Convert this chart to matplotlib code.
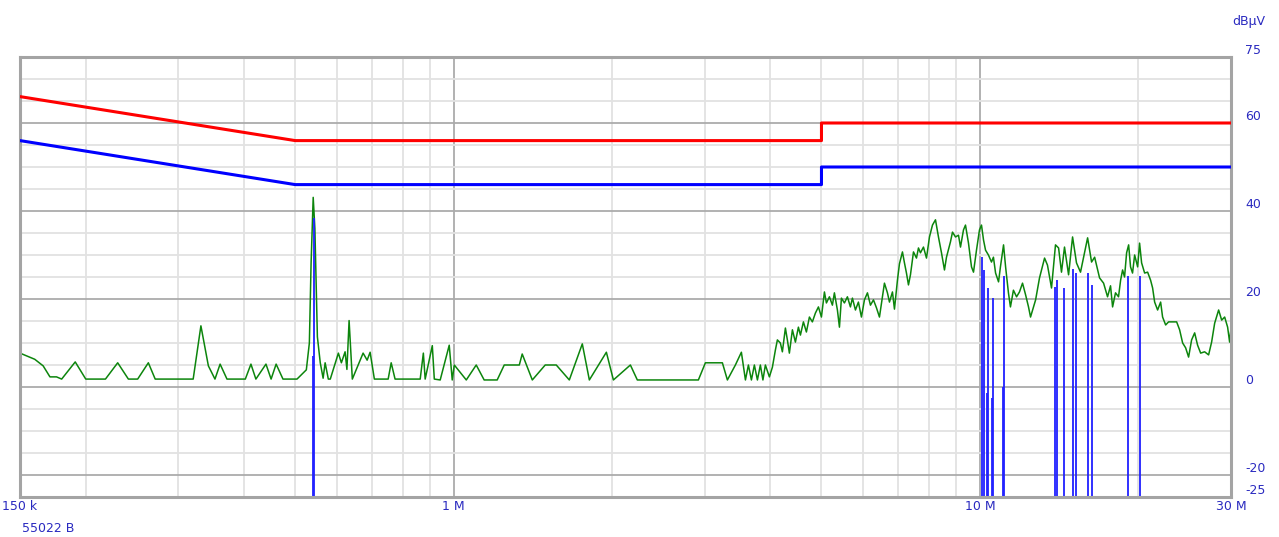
import matplotlib
matplotlib.use('Agg')
import matplotlib.pyplot as plt

# limit lines (class B): quasi-peak and average
lim_freq = [0.15, 0.5, 5.0, 5.0, 30.0]
qp_limit = [66, 56, 56, 60, 60]
av_limit = [56, 46, 46, 50, 50]

pk_freq = [0.150, 0.160, 0.166, 0.171, 0.176, 0.180, 0.191, 0.200, 0.218, 0.230,
           0.241, 0.251, 0.263, 0.271, 0.320, 0.331, 0.342, 0.352, 0.360, 0.371,
           0.402, 0.412, 0.421, 0.440, 0.450, 0.460, 0.474, 0.504, 0.525, 0.532,
           0.536, 0.541, 0.545, 0.548, 0.551, 0.558, 0.565, 0.570, 0.578, 0.583,
           0.604, 0.612, 0.622, 0.627, 0.633, 0.642, 0.673, 0.685, 0.694, 0.707,
           0.751, 0.761, 0.774, 0.864, 0.876, 0.883, 0.911, 0.919, 0.943, 0.981,
           0.994, 1.003, 1.057, 1.104, 1.143, 1.210, 1.248, 1.333, 1.350, 1.411,
           1.493, 1.567, 1.659, 1.756, 1.811, 1.951, 2.012, 2.167, 2.234, 2.450,
           2.918, 3.009, 3.241, 3.313, 3.431, 3.522, 3.585, 3.632, 3.680, 3.728,
           3.778, 3.827, 3.870, 3.912, 3.981, 4.034, 4.087, 4.123, 4.177, 4.214,
           4.270, 4.307, 4.345, 4.403, 4.461, 4.520, 4.560, 4.620, 4.681, 4.743,
           4.805, 4.869, 4.934, 4.999, 5.065, 5.109, 5.177, 5.245, 5.291, 5.361,
           5.409, 5.456, 5.528, 5.601, 5.675, 5.725, 5.801, 5.877, 5.955, 6.034,
           6.114, 6.195, 6.277, 6.360, 6.444, 6.529, 6.586, 6.673, 6.732, 6.821,
           6.881, 6.972, 7.033, 7.126, 7.189, 7.252, 7.316, 7.380, 7.478, 7.577,
           7.643, 7.710, 7.812, 7.916, 8.020, 8.126, 8.234, 8.342, 8.453, 8.564,
           8.640, 8.792, 8.870, 8.987, 9.106, 9.186, 9.307, 9.389, 9.513, 9.639,
           9.724, 9.852, 9.982, 10.07, 10.16, 10.25, 10.38, 10.52, 10.61, 10.71,
           10.85, 10.94, 11.09, 11.19, 11.33, 11.43, 11.58, 11.74, 11.89, 12.05,
           12.21, 12.37, 12.48, 12.76, 12.98, 13.27, 13.44, 13.68, 13.92, 14.11,
           14.29, 14.48, 14.74, 15.00, 15.26, 15.53, 16.02, 16.30, 16.52, 16.88,
           17.18, 17.48, 17.71, 17.87, 18.10, 18.34, 18.51, 18.67, 18.83, 19.00,
           19.17, 19.33, 19.50, 19.68, 19.94, 20.11, 20.29, 20.56, 20.83, 21.10,
           21.29, 21.48, 21.76, 22.05, 22.24, 22.54, 22.83, 23.24, 23.65, 23.96,
           24.28, 24.60, 24.92, 25.25, 25.59, 25.92, 26.27, 26.73, 27.20, 27.56,
           27.93, 28.42, 28.80, 29.18, 29.56, 29.82, 30.0]
pk_level = [7.7, 6.3, 4.8, 2.3, 2.3, 1.8, 5.7, 1.8, 1.8, 5.5,
            1.8, 1.8, 5.5, 1.8, 1.8, 13.9, 4.8, 1.8, 5.2, 1.8,
            1.8, 5.2, 1.8, 5.2, 1.8, 5.2, 1.8, 1.8, 3.9, 10.0,
            28.0, 43.1, 36.0, 24.0, 11.4, 5.5, 2.0, 5.5, 1.8, 1.8,
            7.7, 5.5, 8.0, 4.0, 15.1, 1.8, 7.7, 6.1, 7.9, 1.8,
            1.8, 5.5, 1.8, 1.8, 7.7, 1.8, 9.4, 1.8, 1.6, 9.5,
            1.6, 5.0, 1.6, 5.0, 1.6, 1.6, 5.0, 5.0, 7.5, 1.6,
            5.0, 5.0, 1.6, 9.8, 1.6, 7.9, 1.6, 5.0, 1.6, 1.6,
            1.6, 5.5, 5.5, 1.6, 5.0, 7.9, 1.6, 5.0, 1.6, 5.0,
            1.6, 5.0, 1.6, 5.0, 2.3, 4.5, 8.4, 10.7, 10.0, 8.0,
            13.4, 10.7, 7.7, 13.0, 10.2, 13.6, 11.8, 14.8, 12.5, 15.9,
            14.8, 16.8, 18.2, 15.9, 21.6, 19.1, 20.5, 18.6, 21.4, 17.5,
            13.6, 20.2, 19.1, 20.5, 18.2, 20.2, 17.5, 19.3, 15.9, 19.8,
            21.4, 18.6, 19.8, 18.0, 15.9, 20.5, 23.6, 21.4, 19.3, 21.6,
            17.7, 24.3, 28.0, 30.7, 28.2, 25.9, 23.2, 25.5, 30.7, 29.3,
            31.6, 30.5, 31.8, 29.3, 34.1, 36.8, 38.0, 34.1, 30.5, 26.6,
            29.5, 33.0, 35.2, 34.1, 34.5, 31.8, 35.7, 36.8, 32.7, 27.3,
            26.1, 31.1, 35.7, 36.8, 33.4, 31.1, 30.0, 28.4, 29.5, 25.9,
            23.9, 27.3, 32.3, 27.3, 21.4, 18.2, 22.0, 20.5, 21.6, 23.6,
            21.0, 18.2, 15.9, 19.8, 24.8, 29.3, 27.7, 22.5, 32.3, 31.6,
            26.1, 31.8, 25.5, 34.1, 28.2, 26.1, 33.9, 28.4, 29.5, 24.8,
            23.6, 20.5, 23.0, 18.2, 21.4, 20.5, 24.3, 26.6, 25.0, 30.5,
            32.3, 27.3, 25.9, 30.0, 27.3, 32.7, 28.2, 25.9, 26.1, 24.3,
            22.5, 19.3, 17.5, 19.3, 15.9, 14.1, 14.8, 14.8, 14.8, 13.0,
            10.0, 8.9, 6.8, 10.7, 12.3, 9.5, 7.7, 8.0, 7.3, 10.2,
            14.5, 17.5, 15.2, 15.9, 13.6, 10.2, 13.4]

# average trace: only these points come above the bottom of the chart
av_freq = [0.540, 0.543, 10.10, 10.18, 10.32, 10.37, 10.55, 10.58, 11.04, 11.10,
           13.86, 14.04, 14.45, 15.02, 15.20, 16.06, 16.35, 19.14, 20.12]
av_level = [7.0, 38.5, 29.5, 26.6, -1.4, 22.5, -2.5, 20.2, 0.0, 25.2,
            22.7, 24.3, 22.5, 26.8, 25.9, 26.0, 23.2, 25.2, 25.2]

xlabels = ['150 k', '1 M', '10 M', '30 M']
xlabel_pos = [0.15, 1.0, 10.0, 30.0]
ylabel_pos = [75, 60, 40, 20, 0, -20, -25]

txtc = '#2a2ac0'
fig = plt.figure(figsize=(12.79, 5.37), dpi=100)
ax = fig.add_axes([20/1279, 40/537, 1211/1279, 440/537])
ax.set_xscale('log')
ax.set_xlim(0.15, 30)
ax.set_ylim(-25, 75)

# grid
for d in [0.1, 1.0, 10.0]:
    for m in range(2, 10):
        f = d * m
        if 0.15 < f < 30:
            ax.axvline(f, color='#e2e2e2', lw=1.3, zorder=0)
for f in [1.0, 10.0]:
    ax.axvline(f, color='#ababab', lw=1.3, zorder=0)
for v in range(-25, 75, 5):
    if v % 20 == 0:
        ax.axhline(v, color='#ababab', lw=1.3, zorder=0)
    else:
        ax.axhline(v, color='#e2e2e2', lw=1.3, zorder=0)

ax.plot(lim_freq, qp_limit, color='#ff0000', lw=2.2, zorder=3)
ax.plot(lim_freq, av_limit, color='#0000ff', lw=2.2, zorder=3)
ax.plot(pk_freq, pk_level, color='#0c850c', lw=1.1, zorder=2)
ax.vlines(av_freq, -30, av_level, color='#2020ff', lw=1.3, zorder=2)

for s in ax.spines.values():
    s.set_color('#a4a4a4')
    s.set_linewidth(2.2)

ax.set_xticks(xlabel_pos)
ax.set_xticklabels(xlabels)
ax.xaxis.set_minor_locator(matplotlib.ticker.NullLocator())
ax.tick_params(axis='x', length=0, pad=2, labelsize=9, labelcolor=txtc)
ax.set_yticks(ylabel_pos)
ax.set_yticklabels([str(v) for v in ylabel_pos])
ax.yaxis.tick_right()
ax.tick_params(axis='y', length=0, pad=10, labelsize=9, labelcolor=txtc)
for lbl in ax.get_yticklabels():
    lbl.set_va('bottom')

fig.text(1232/1279, 1 - 21/537, 'dB\u00b5V', color=txtc, fontsize=9, va='center', ha='left')
fig.text(22/1279, 1 - 528/537, '55022 B', color=txtc, fontsize=9, va='center', ha='left')

fig.savefig('out.png', dpi=100)
